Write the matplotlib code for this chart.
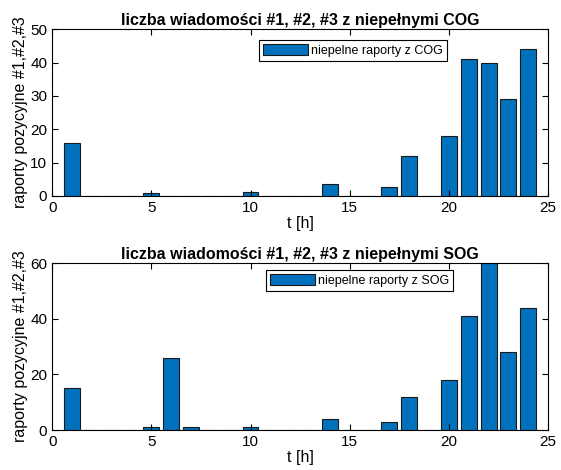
import matplotlib.pyplot as plt
import numpy as np

plt.rcParams["font.family"] = ["Liberation Sans", "DejaVu Sans"]

# godziny i liczba niepelnych raportow
hours = np.arange(1, 25)
cog = [16, 0, 0, 0, 1, 0, 0, 0, 0, 1.2, 0, 0, 0, 3.6, 0, 0, 2.7, 12,
       0, 18, 41, 40, 29, 44]
sog = [15, 0, 0, 0, 1, 26, 1, 0, 0, 1.2, 0, 0, 0, 4, 0, 0, 3, 12,
       0, 18, 41, 60, 28, 44]

titles = ["liczba wiadomości #1, #2, #3 z niepełnymi COG",
          "liczba wiadomości #1, #2, #3 z niepełnymi SOG"]
labels = ["niepelne raporty z COG", "niepelne raporty z SOG"]
yticks = [np.arange(0, 51, 10), np.arange(0, 61, 20)]

fig = plt.figure(figsize=(5.61, 4.70), dpi=100)
positions = [[0.093, 0.583, 0.884, 0.355], [0.093, 0.085, 0.884, 0.355]]
legend_anchor = [(0.417, 0.934), (0.431, 0.958)]

for i, data in enumerate([cog, sog]):
    ax = fig.add_axes(positions[i])
    ax.bar(hours, data, width=0.8, color="#0072BD", edgecolor="#1a1a1a",
           linewidth=0.8, label=labels[i])
    ax.set_xlim(0, 25)
    ax.set_ylim(yticks[i][0], yticks[i][-1])
    ax.set_xticks(np.arange(0, 26, 5))
    ax.set_yticks(yticks[i])
    ax.tick_params(direction="in", top=True, right=True, labelsize=11,
                   length=4)
    ax.set_title(titles[i], fontsize=11.5, fontweight="bold", pad=3)
    ax.set_xlabel("t [h]", fontsize=11.5, labelpad=1)
    ax.set_ylabel("raporty pozycyjne #1,#2,#3", fontsize=11.5, labelpad=2)
    for s in ax.spines.values():
        s.set_linewidth(0.8)
    leg = ax.legend(loc="upper left", bbox_to_anchor=legend_anchor[i],
                    fontsize=9, handlelength=3.6, handleheight=1.0,
                    fancybox=False, edgecolor="black", framealpha=1,
                    borderpad=0.3, borderaxespad=0, handletextpad=0.3)
    leg.get_frame().set_linewidth(0.8)

fig.savefig("out.png", dpi=100)
